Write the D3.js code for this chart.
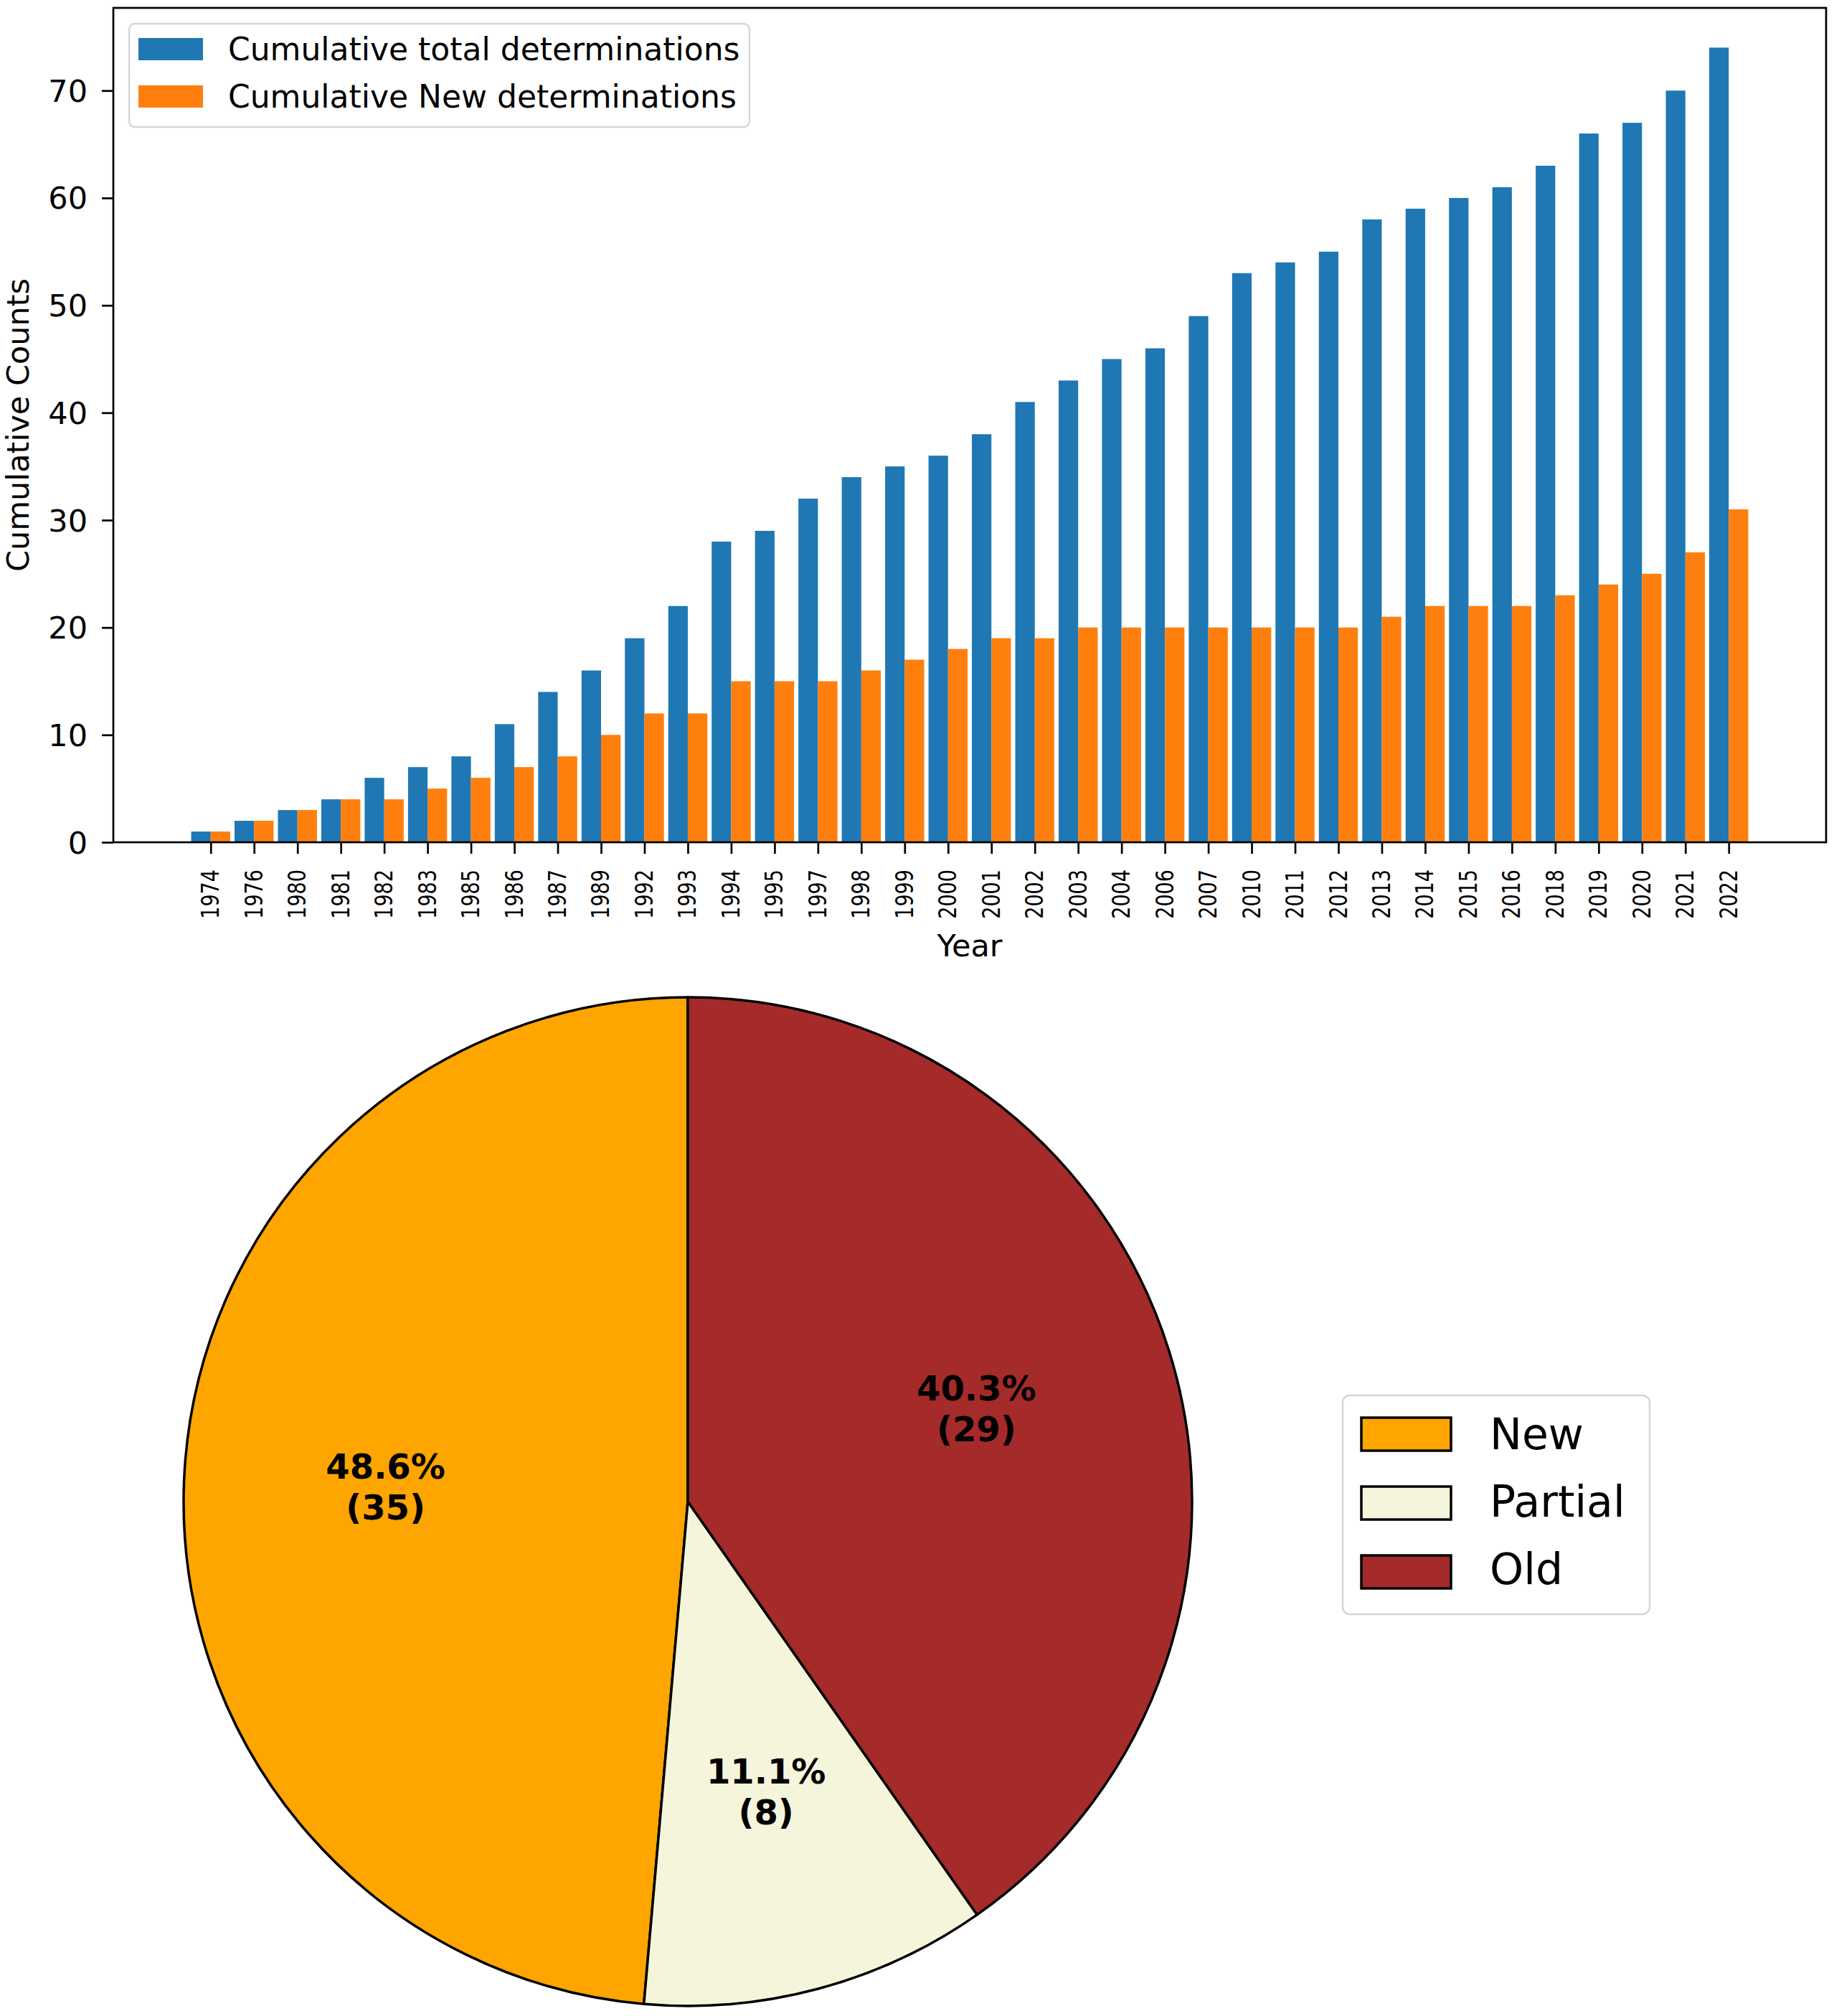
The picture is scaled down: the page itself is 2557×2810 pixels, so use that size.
<!DOCTYPE html>
<html>
<head>
<meta charset="utf-8">
<script src="https://cdn.jsdelivr.net/npm/d3@7"></script>
<style>
body{margin:0;background:#fff}
text{font-family:"DejaVu Sans",sans-serif;fill:#000}
</style>
</head>
<body>
<svg id="chart"></svg>
<script>
// bar chart data
var years=[1974,1976,1980,1981,1982,1983,1985,1986,1987,1989,1992,1993,1994,1995,1997,1998,1999,2000,
  2001,2002,2003,2004,2006,2007,2010,2011,2012,2013,2014,2015,2016,2018,2019,2020,2021,2022]
var totalCounts=[1,2,3,4,6,7,8,11,14,16,19,22,28,29,32,34,35,36,38,41,43,45,46,49,53,54,55,58,59,60,61,63,66,67,70,74]
var newCounts=[1,2,3,4,4,5,6,7,8,10,12,12,15,15,15,16,17,18,19,19,20,20,20,20,20,20,20,21,22,22,22,23,24,25,27,31]
var seriesNames=["Cumulative total determinations","Cumulative New determinations"]
var yTicks=[0,10,20,30,40,50,60,70]

// pie data
var pieLabels=["New","Partial","Old"]
var pieValues=[35,8,29]

var barColors=["#1f77b4","#ff7f0e"]
var pieColors=["#ffa500","#f5f5dc","#a52a2a"]

var screen={width:2557,height:2810}
var margins={left:158,right:11,top:11}
var graph={width:screen.width-margins.left-margins.right,height:1163}

var svg=d3.select("#chart")
    .attr("width",screen.width)
    .attr("height",screen.height)

//scales
var barW=0.45
var xScale=d3.scaleLinear()
    .domain([-barW-1.795,years.length-1+barW+1.795])
    .range([margins.left,margins.left+graph.width])
var yScale=d3.scaleLinear()
    .domain([0,77.7])
    .range([margins.top+graph.height,margins.top])

//bars
var bars=svg.append("g")
var drawSeries=function(vals,offset,color){
    bars.append("g").selectAll("rect")
        .data(vals)
        .enter()
        .append("rect")
        .attr("x",function(d,i){return xScale(i+offset)})
        .attr("width",function(d,i){return xScale(i+offset+barW)-xScale(i+offset)})
        .attr("y",function(d){return yScale(d)})
        .attr("height",function(d){return yScale(0)-yScale(d)})
        .attr("fill",color)
}
drawSeries(totalCounts,-barW,barColors[0])
drawSeries(newCounts,0,barColors[1])

//axes
var yAxis=d3.axisLeft(yScale).tickValues(yTicks).tickSize(16).tickPadding(20)
var xAxis=d3.axisBottom(xScale)
    .tickValues(d3.range(years.length))
    .tickFormat(function(i){return years[i]})
    .tickSize(16)

var yg=svg.append("g")
    .attr("transform","translate("+margins.left+",0)")
    .call(yAxis)
yg.select(".domain").remove()
yg.selectAll("line").attr("stroke","#000").attr("stroke-width",2.7)
yg.selectAll("text").attr("font-size",43).attr("font-family","DejaVu Sans").attr("dy","0.35em")

var xg=svg.append("g")
    .attr("transform","translate(0,"+(margins.top+graph.height)+")")
    .call(xAxis)
xg.select(".domain").remove()
xg.selectAll("line").attr("stroke","#000").attr("stroke-width",2.7)
xg.selectAll("text")
    .attr("font-size",33)
    .attr("font-family","DejaVu Sans")
    .attr("text-anchor","end")
    .attr("x",0).attr("y",0).attr("dy",0)
    .attr("transform","translate(11,38) rotate(-90) scale(0.82,1)")

//frame
svg.append("rect")
    .attr("x",margins.left).attr("y",margins.top)
    .attr("width",graph.width).attr("height",graph.height)
    .attr("fill","none").attr("stroke","#000").attr("stroke-width",2.7)

//labels
svg.append("text")
    .text("Year")
    .attr("font-size",43)
    .attr("text-anchor","middle")
    .attr("x",margins.left+graph.width/2)
    .attr("y",1333)
svg.append("g")
    .attr("transform","translate(40,"+(margins.top+graph.height/2)+")")
    .append("text")
    .text("Cumulative Counts")
    .attr("font-size",43)
    .attr("text-anchor","middle")
    .attr("transform","rotate(-90)")

//bar legend
var leg=svg.append("g")
leg.append("rect")
    .attr("x",180).attr("y",33).attr("width",865).attr("height",144)
    .attr("rx",8)
    .attr("fill","#fff").attr("fill-opacity",0.8)
    .attr("stroke","#d6d6d6").attr("stroke-width",2.5)
seriesNames.forEach(function(name,i){
    leg.append("rect")
        .attr("x",193).attr("y",53+i*66).attr("width",90).attr("height",31)
        .attr("fill",barColors[i])
    leg.append("text")
        .text(name)
        .attr("font-size",44)
        .attr("x",318).attr("y",84+i*66)
})

//pie
var radius=703
var total=d3.sum(pieValues)
var pie=d3.pie().sort(null).startAngle(0).endAngle(-2*Math.PI)
var arc=d3.arc().innerRadius(0).outerRadius(radius)
var labelArc=d3.arc().innerRadius(radius*0.6).outerRadius(radius*0.6)
var pg=svg.append("g").attr("transform","translate(959,2093)")
var slices=pie(pieValues)
pg.selectAll("path")
    .data(slices)
    .enter()
    .append("path")
    .attr("d",arc)
    .attr("fill",function(d,i){return pieColors[i]})
    .attr("stroke","#000")
    .attr("stroke-width",3.5)
    .attr("stroke-linejoin","round")
var pl=pg.selectAll("g.lab")
    .data(slices)
    .enter()
    .append("g")
    .classed("lab",true)
    .attr("transform",function(d){return "translate("+labelArc.centroid(d)+")"})
pl.append("text")
    .text(function(d){return d3.format(".1f")(d.value/total*100)+"%"})
    .attr("font-size",48).attr("font-weight","bold")
    .attr("text-anchor","middle")
    .attr("y",-14)
pl.append("text")
    .text(function(d){return "("+d.value+")"})
    .attr("font-size",48).attr("font-weight","bold")
    .attr("text-anchor","middle")
    .attr("y",43)

//pie legend
var pleg=svg.append("g")
pleg.append("rect")
    .attr("x",1872).attr("y",1945).attr("width",428).attr("height",305)
    .attr("rx",10)
    .attr("fill","#fff")
    .attr("stroke","#d6d6d6").attr("stroke-width",2.5)
pieLabels.forEach(function(name,i){
    pleg.append("rect")
        .attr("x",1898).attr("y",1976+i*96).attr("width",125).attr("height",46)
        .attr("fill",pieColors[i])
        .attr("stroke","#000").attr("stroke-width",3.5)
    pleg.append("text")
        .text(name)
        .attr("font-size",60)
        .attr("x",2077).attr("y",2020+i*94)
})
</script>
</body>
</html>
